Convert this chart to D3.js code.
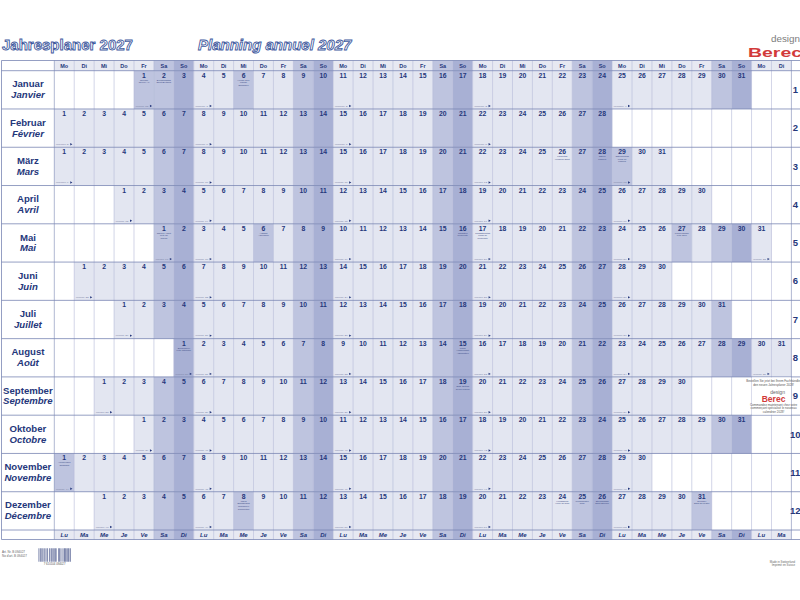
<!DOCTYPE html>
<html>
<head>
<meta charset="utf-8">
<script src="https://cdn.jsdelivr.net/npm/d3@7"></script>
<style>
  body { margin: 0; background: #fff; }
  svg { display: block; font-family: "Liberation Sans", Arial, sans-serif; }
</style>
</head>
<body>
<div id="chart"></div>
<script>
//Calendar data for 2027

const weekdaysDe = ["Mo", "Di", "Mi", "Do", "Fr", "Sa", "So"];
const weekdaysFr = ["Lu", "Ma", "Me", "Je", "Ve", "Sa", "Di"];
const monthsDe = ["Januar", "Februar", "März", "April", "Mai", "Juni", "Juli", "August", "September", "Oktober", "November", "Dezember"];
const monthsFr = ["Janvier", "Février", "Mars", "Avril", "Mai", "Juin", "Juillet", "Août", "Septembre", "Octobre", "Novembre", "Décembre"];
const monthStart = [4, 0, 0, 3, 5, 1, 3, 6, 2, 4, 0, 2]; //column of the 1st (0 = Mo)
const monthDays = [31, 28, 31, 30, 31, 30, 31, 31, 30, 31, 30, 31];
const columnCount = 37;

//holidays: month, day, shaded as day off, German name, French name
const holidays = [
  { m: 1, d: 1, off: true, de: "Neujahr", fr: "Nouvel An" },
  { m: 1, d: 2, off: false, de: "Berchtoldstag", fr: "Saint-Berthold" },
  { m: 1, d: 6, off: true, de: "Heilige Drei Könige", fr: "Epiphanie" },
  { m: 3, d: 26, off: false, de: "Karfreitag", fr: "Vendredi Saint" },
  { m: 3, d: 28, off: false, de: "Ostern", fr: "Pâques" },
  { m: 3, d: 29, off: true, de: "Ostermontag", fr: "Lundi de Pâques" },
  { m: 5, d: 1, off: false, de: "Tag der Arbeit", fr: "Fête du Travail" },
  { m: 5, d: 6, off: true, de: "Auffahrt", fr: "Ascension" },
  { m: 5, d: 16, off: false, de: "Pfingsten", fr: "Pentecôte" },
  { m: 5, d: 17, off: false, de: "Pfingstmontag", fr: "Lundi de Pentecôte" },
  { m: 5, d: 27, off: true, de: "Fronleichnam", fr: "Fête-Dieu" },
  { m: 8, d: 1, off: false, de: "Bundesfeier", fr: "Fête nationale" },
  { m: 8, d: 15, off: false, de: "Mariä Himmelfahrt", fr: "Assomption" },
  { m: 9, d: 19, off: false, de: "Eidg. Bettag", fr: "Jeûne fédéral" },
  { m: 11, d: 1, off: true, de: "Allerheiligen", fr: "Toussaint" },
  { m: 12, d: 8, off: true, de: "Mariä Empfängnis", fr: "Immaculée Conception" },
  { m: 12, d: 24, off: false, de: "Heiligabend", fr: "Veille de Noël" },
  { m: 12, d: 25, off: false, de: "Weihnachten", fr: "Noël" },
  { m: 12, d: 26, off: false, de: "Stephanstag", fr: "Saint-Etienne" },
  { m: 12, d: 31, off: true, de: "Silvester", fr: "Saint-Sylvestre" }
];

const barcodeBits = "10100011010110001001100100110100011010001101010100111010100001011100101000010100111011100101110010101";

//Colours

const cWeekday = "#e3e6f1";
const cSat = "#bec4df";
const cSun = "#a8b0d4";
const cHead = "#e7e9f2";
const cText = "#25377b";
const cRowLine = "#7a86b4";
const cColLine = "#b3b9d6";

//Layout scales

const headTop = 60.5;
const footBottom = 539.5;
const labelLeft = 1.5;

const x = d3.scaleBand().domain(d3.range(columnCount)).range([54.3, 791.4]);
const y = d3.scaleBand().domain(d3.range(12)).range([70.7, 530]);
const bw = x.bandwidth();
const bh = y.bandwidth();

const svg = d3.select("#chart")
  .append("svg")
  .attr("width", 800)
  .attr("height", 600);

//Build the day cells

const cumDays = [0].concat(Array.from(d3.cumsum(monthDays)));
const cells = [];
monthsDe.forEach((name, m) => {
  for (let d = 1; d <= monthDays[m]; d++) {
    const c = monthStart[m] + d - 1;
    const wd = c % 7;
    const doy = cumDays[m] + d;
    let week = Math.floor((doy - wd - 1 + 10) / 7);
    if (week === 0) week = 53;
    const hol = holidays.find((h) => h.m === m + 1 && h.d === d);
    cells.push({ m, d, c, wd, week, hol });
  }
});

const dayFill = (wd, off) => wd === 6 ? cSun : (wd === 5 || off) ? cSat : cWeekday;

//simple word wrap for the tiny holiday names
function wrapWords(str, maxChars) {
  const lines = [];
  let cur = "";
  str.split(" ").forEach((w) => {
    if (cur && (cur + " " + w).length > maxChars) {
      lines.push(cur);
      cur = w;
    } else {
      cur = cur ? cur + " " + w : w;
    }
  });
  if (cur) lines.push(cur);
  return lines;
}

//Header and footer weekday cells

const headCols = d3.range(columnCount).map((c) => ({ c, wd: c % 7 }));

[[headTop, 70.7, weekdaysDe, "normal"], [530, footBottom, weekdaysFr, "italic"]].forEach(([top, bot, labels, style]) => {
  svg.append("g").selectAll("rect")
    .data(headCols)
    .join("rect")
    .attr("x", (d) => x(d.c))
    .attr("y", top)
    .attr("width", bw)
    .attr("height", bot - top)
    .attr("fill", (d) => d.wd === 6 ? cSun : d.wd === 5 ? cSat : cHead);

  svg.append("g").selectAll("text")
    .data(headCols)
    .join("text")
    .attr("x", (d) => x(d.c) + bw / 2)
    .attr("y", top + (bot - top) / 2 + 2)
    .attr("text-anchor", "middle")
    .style("font-size", style === "italic" ? "6px" : "5.5px")
    .style("font-style", style)
    .style("font-weight", "bold")
    .attr("fill", cText)
    .text((d) => labels[d.wd]);
});

//Day cells

svg.append("g").selectAll("rect")
  .data(cells)
  .join("rect")
  .attr("x", (d) => x(d.c))
  .attr("y", (d) => y(d.m))
  .attr("width", bw)
  .attr("height", bh)
  .attr("fill", (d) => dayFill(d.wd, d.hol && d.hol.off));

//Vertical grid lines

svg.append("g").selectAll("line")
  .data(d3.range(columnCount + 1))
  .join("line")
  .attr("x1", (c) => c === columnCount ? x(c - 1) + bw : x(c))
  .attr("x2", (c) => c === columnCount ? x(c - 1) + bw : x(c))
  .attr("y1", headTop)
  .attr("y2", footBottom)
  .attr("stroke", (c) => (c === 0 || c === columnCount) ? cRowLine : cColLine)
  .attr("stroke-width", 0.6);

//Left frame line

svg.append("line")
  .attr("x1", labelLeft).attr("x2", labelLeft)
  .attr("y1", headTop).attr("y2", footBottom)
  .attr("stroke", cRowLine).attr("stroke-width", 0.8);

//Horizontal row lines

const rowEdges = [headTop, ...d3.range(12).map((m) => y(m)), 530, footBottom];
svg.append("g").selectAll("line")
  .data(rowEdges)
  .join("line")
  .attr("x1", labelLeft)
  .attr("x2", 800)
  .attr("y1", (d) => d)
  .attr("y2", (d) => d)
  .attr("stroke", cRowLine)
  .attr("stroke-width", 0.8);

//Day numbers

svg.append("g").selectAll("text")
  .data(cells)
  .join("text")
  .attr("x", (d) => x(d.c) + bw / 2)
  .attr("y", (d) => y(d.m) + 7)
  .attr("text-anchor", "middle")
  .style("font-size", "6.8px")
  .style("font-weight", "bold")
  .attr("fill", cText)
  .text((d) => d.d);

//Holiday names

const holCells = cells.filter((d) => d.hol);
const holText = svg.append("g").selectAll("text")
  .data(holCells)
  .join("text")
  .attr("text-anchor", "middle")
  .style("font-size", "2.3px")
  .attr("fill", "#3b4a86");
holText.selectAll("tspan")
  .data((d) => {
    const lines = wrapWords(d.hol.de, 14).concat(wrapWords(d.hol.fr, 14));
    return lines.map((t, i) => ({ t, i, cx: x(d.c) + bw / 2, top: y(d.m) }));
  })
  .join("tspan")
  .attr("x", (l) => l.cx)
  .attr("y", (l) => l.top + 10 + l.i * 2.6)
  .text((l) => l.t);

//Week markers on Mondays and on the first of each month

const weekCells = cells.filter((d) => d.wd === 0 || d.d === 1);
svg.append("g").selectAll("text")
  .data(weekCells)
  .join("text")
  .attr("x", (d) => x(d.c) + 1.5)
  .attr("y", (d) => y(d.m) + bh - 2.2)
  .attr("textLength", bw - 7)
  .attr("lengthAdjust", "spacingAndGlyphs")
  .style("font-size", "2.4px")
  .attr("fill", "#7d84a6")
  .text((d) => `Woche ${d.week}`);

svg.append("g").selectAll("path")
  .data(weekCells)
  .join("path")
  .attr("d", (d) => {
    const px = x(d.c) + bw - 4;
    const py = y(d.m) + bh - 3;
    return `M${px},${py - 1.2}L${px + 2.2},${py}L${px},${py + 1.2}Z`;
  })
  .attr("fill", cText);

//Month labels

const monthLabels = svg.append("g").selectAll("text")
  .data(monthsDe)
  .join("text")
  .attr("x", (labelLeft + x(0)) / 2)
  .attr("text-anchor", "middle")
  .style("font-size", "9.6px")
  .style("font-weight", "bold")
  .attr("fill", cText);
monthLabels.append("tspan")
  .attr("y", (d, i) => y(i) + bh / 2 - 2.4)
  .text((d) => d);
monthLabels.append("tspan")
  .attr("x", (labelLeft + x(0)) / 2)
  .attr("y", (d, i) => y(i) + bh / 2 + 8.4)
  .style("font-style", "italic")
  .text((d, i) => monthsFr[i]);

//Order box in September row

const boxX = x(35);
const boxY = y(8);
svg.append("rect")
  .attr("x", boxX + 0.3)
  .attr("y", boxY + 0.6)
  .attr("width", 791.4 - boxX - 0.6)
  .attr("height", bh - 1.2)
  .attr("fill", "#fff");

const boxLinesTop = ["Bestellen Sie jetzt bei Ihrem Fachhändler", "den neuen Jahresplaner 2028!"];
const boxLinesBottom = ["Commandez maintenant chez votre", "commerçant spécialisé le nouveau", "calendrier 2028!"];
svg.append("g").selectAll("text")
  .data(boxLinesTop)
  .join("text")
  .attr("x", boxX + 22)
  .attr("y", (d, i) => boxY + 5 + i * 3.6)
  .attr("text-anchor", "middle")
  .style("font-size", "3px")
  .attr("fill", "#555")
  .text((d) => d);
svg.append("text")
  .attr("x", boxX + 26)
  .attr("y", boxY + 17.5)
  .attr("text-anchor", "middle")
  .style("font-size", "5px")
  .attr("fill", "#666")
  .text("design");
svg.append("text")
  .attr("x", boxX + 22)
  .attr("y", boxY + 25)
  .attr("text-anchor", "middle")
  .style("font-size", "8.5px")
  .style("font-weight", "bold")
  .attr("fill", "#d23a3a")
  .text("Berec");
svg.append("g").selectAll("text")
  .data(boxLinesBottom)
  .join("text")
  .attr("x", boxX + 22)
  .attr("y", (d, i) => boxY + 29 + i * 3.4)
  .attr("text-anchor", "middle")
  .style("font-size", "3px")
  .attr("fill", "#555")
  .text((d) => d);

//Month numbers at the right edge

svg.append("g").selectAll("text")
  .data(d3.range(12))
  .join("text")
  .attr("x", 795.3)
  .attr("y", (m) => y(m) + bh / 2 + 3.2)
  .attr("text-anchor", "middle")
  .style("font-size", "9.5px")
  .style("font-weight", "bold")
  .attr("fill", cText)
  .text((m) => m + 1);

//Titles

svg.append("text")
  .attr("x", 2)
  .attr("y", 50)
  .style("font-size", "15px")
  .style("font-weight", "bold")
  .attr("fill", "#ffffff")
  .attr("stroke", "#3f5a9e")
  .attr("stroke-width", 0.9)
  .text("Jahresplaner 2027");

svg.append("text")
  .attr("x", 198)
  .attr("y", 50)
  .style("font-size", "15px")
  .style("font-weight", "bold")
  .style("font-style", "italic")
  .attr("fill", "#ffffff")
  .attr("stroke", "#3f5a9e")
  .attr("stroke-width", 0.9)
  .text("Planning annuel 2027");

//Logo

svg.append("text")
  .attr("x", 771)
  .attr("y", 42)
  .attr("textLength", 29)
  .attr("lengthAdjust", "spacingAndGlyphs")
  .style("font-size", "9px")
  .attr("fill", "#7d7d7d")
  .text("design");
svg.append("text")
  .attr("x", 748)
  .attr("y", 56.5)
  .attr("textLength", 54)
  .attr("lengthAdjust", "spacingAndGlyphs")
  .style("font-size", "13px")
  .style("font-weight", "bold")
  .attr("fill", "#d23a3a")
  .text("Berec");

//Article numbers and barcode

svg.append("g").selectAll("text")
  .data(["Art. Nr. B 094027", "No d'art. B 094027"])
  .join("text")
  .attr("x", 2)
  .attr("y", (d, i) => 553 + i * 3.8)
  .style("font-size", "3px")
  .attr("fill", "#666")
  .text((d) => d);

const bx = d3.scaleLinear().domain([0, barcodeBits.length]).range([38.3, 71]);
svg.append("g").selectAll("rect")
  .data(barcodeBits.split("").map((b, i) => ({ b, i })).filter((d) => d.b === "1"))
  .join("rect")
  .attr("x", (d) => bx(d.i))
  .attr("y", 548.3)
  .attr("width", bx(1) - bx(0))
  .attr("height", 13.4)
  .attr("fill", "#2b3a78");
svg.append("text")
  .attr("x", 54.6)
  .attr("y", 564.5)
  .attr("text-anchor", "middle")
  .style("font-size", "2.8px")
  .attr("fill", "#555")
  .text("7 610104 094027");

svg.append("g").selectAll("text")
  .data(["Made in Switzerland", "Imprimé en Suisse"])
  .join("text")
  .attr("x", 795)
  .attr("y", (d, i) => 562.5 + i * 3.6)
  .attr("text-anchor", "end")
  .style("font-size", "2.8px")
  .attr("fill", "#666")
  .text((d) => d);
</script>
</body>
</html>
